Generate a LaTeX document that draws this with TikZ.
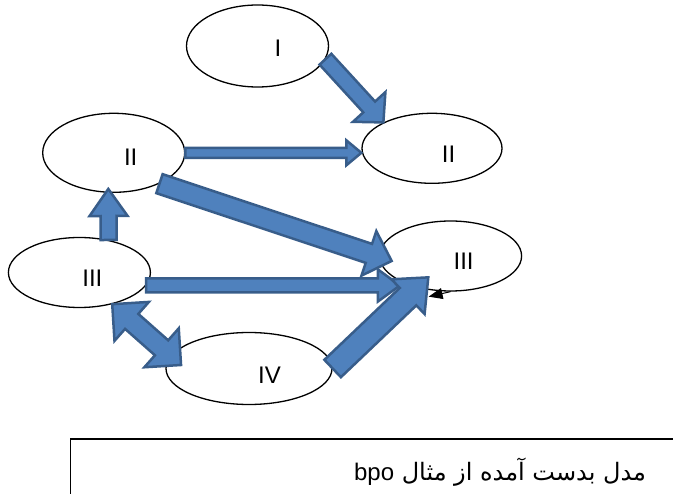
\documentclass[tikz,border=0pt]{standalone}
\usepackage{fontspec}
\setmainfont{Liberation Sans}
\newfontfamily\arabicfont[Script=Arabic]{DejaVu Sans}
\newfontfamily\latinfont{Liberation Sans}
\TeXXeTstate=1
\usepackage{tikz}
\usetikzlibrary{positioning, arrows.meta, calc, shapes}
\definecolor{arrowFill}{HTML}{4F81BD}
\definecolor{arrowEdge}{HTML}{385D8A}
\tikzstyle{stateEllipse} =[ellipse, draw, line width=1.3pt, fill=white, inner sep=0pt, minimum width=142pt, minimum height=70pt]
\tikzstyle{stateText} =[inner sep=0pt, font=\fontsize{24}{24}\selectfont]
\tikzstyle{blockArrow} =[fill=arrowFill, draw=arrowEdge, line width=2.5pt, line join=miter]

% block arrow: tail, tip, half shaft width, half head width, head length
\newcommand{\bigArrow}[5]{%
\path (#1) coordinate (baTail) (#2) coordinate (baTip);
\path ($(baTip)!#5!(baTail)$) coordinate (baBase);
\draw[blockArrow] ($(baTail)!#3!90:(baTip)$) -- ($(baBase)!#3!90:(baTip)$) -- ($(baBase)!#4!90:(baTip)$) -- (baTip)
	-- ($(baBase)!#4!-90:(baTip)$) -- ($(baBase)!#3!-90:(baTip)$) -- ($(baTail)!#3!-90:(baTip)$) -- cycle;
}
% block arrow with a head at both ends
\newcommand{\bothArrow}[5]{%
\path (#1) coordinate (baA) (#2) coordinate (baB);
\path ($(baA)!#5!(baB)$) coordinate (baAb) ($(baB)!#5!(baA)$) coordinate (baBb);
\draw[blockArrow] (baA) -- ($(baAb)!#4!90:(baB)$) -- ($(baAb)!#3!90:(baB)$) -- ($(baBb)!#3!-90:(baA)$) -- ($(baBb)!#4!-90:(baA)$) -- (baB)
	-- ($(baBb)!#4!90:(baA)$) -- ($(baBb)!#3!90:(baA)$) -- ($(baAb)!#3!-90:(baB)$) -- ($(baAb)!#4!-90:(baB)$) -- cycle;
}

\begin{document}
\begin{tikzpicture}[x=1pt, y=-1pt]
\useasboundingbox (0,0) rectangle (673,494);

\node (i) [stateEllipse, minimum height=82pt] at (257.5,46) {};
\node (iText) [stateText] at ($(i.center)+(20.5,2)$) {I};

\node (iiL) [stateEllipse, minimum height=79pt] at (113.7,152.8) {};
\node (iiLText) [stateText] at ($(iiL.center)+(17,4)$) {II};

\node (iiR) [stateEllipse, minimum width=140pt] at (432,148.3) {};
\node (iiRText) [stateText] at ($(iiR.center)+(16.5,5.5)$) {II};

\node (iiiL) [stateEllipse] at (79.4,272.5) {};
\node (iiiLText) [stateText] at ($(iiiL.center)+(13,6)$) {III};

\node (iiiR) [stateEllipse] at (450.6,256) {};
\node (iiiRText) [stateText] at ($(iiiR.center)+(13,5.5)$) {III};

\node (iv) [stateEllipse, minimum width=166pt, minimum height=72pt] at (249,368.5) {};
\node (ivText) [stateText] at ($(iv.center)+(20.5,6.5)$) {IV};

%small black tip under III
\coordinate (loopEnd) at ($(iiiR.south)+(-22,5)$);
\draw[-{Triangle[length=14pt, width=11pt]}, line width=1pt, black]
	(iiiR.south) -- (loopEnd);

\bigArrow{i.-11}{iiR.152}{8pt}{22pt}{21pt}
\bigArrow{iiL.east}{iiR.west |- iiL.east}{5pt}{12.5pt}{15pt}
\bigArrow{iiiL.48}{$(iiL.south)+(-5.4,-4)$}{8pt}{19pt}{27pt}
\bigArrow{iiL.-34}{$(iiiR.184)+(12,0)$}{10pt}{23.5pt}{24pt}
\bigArrow{iiiL.-11}{$(iiiR.west |- iiiL.-11)+(21,0)$}{7pt}{16pt}{22pt}
\bigArrow{iv.east}{$(iiiR.south)+(-22.3,-14.3)$}{12pt}{24pt}{28pt}
\bothArrow{iiiL.-44}{$(iv.west)+(15.7,-3.5)$}{10pt}{26pt}{26pt}

%caption box
\draw[line width=1.3pt] (70.5,500) |- (680,439);
\node (caption) at (500,472) {\fontsize{24}{24}\selectfont\arabicfont\beginR مدل بدست آمده از مثال \beginL{\latinfont bpo}\endL\endR};

\end{tikzpicture}
\end{document}
